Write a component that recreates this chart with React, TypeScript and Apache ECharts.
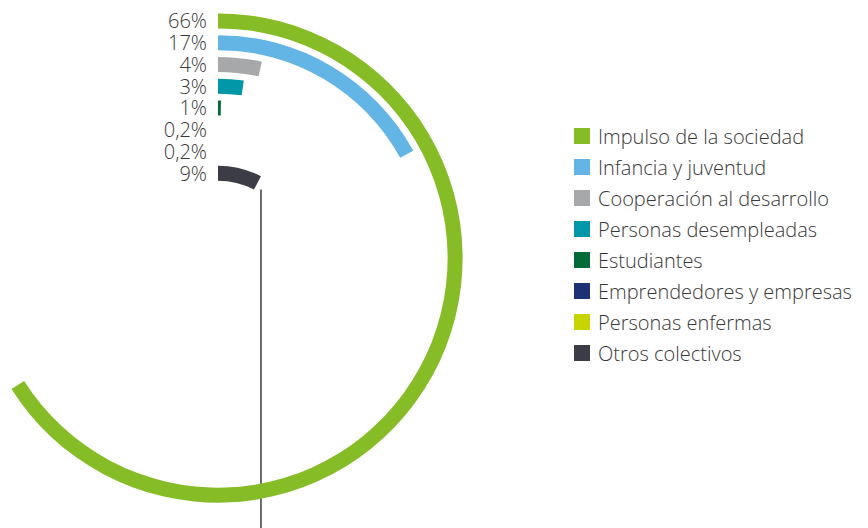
import React, { useEffect, useRef } from "react";
import * as echarts from "echarts";

const categories = [
  "Impulso de la sociedad",
  "Infancia y juventud",
  "Cooperación al desarrollo",
  "Personas desempleadas",
  "Estudiantes",
  "Emprendedores y empresas",
  "Personas enfermas",
  "Otros colectivos",
];
// arc lengths as drawn in the picture (in % of a full turn)
const drawnValues = [66, 17, 3.5, 2.3, 0.3, 0, 0, 7.7];
const percentLabels = ["66%", "17%", "4%", "3%", "1%", "0,2%", "0,2%", "9%"];
const colors = ["#86bc25", "#62b5e5", "#a7a8aa", "#0097a9", "#046a38", "#1e3174", "#c8d400", "#3b3c45"];

const CX = 218;
const CY = 258;
const R0 = 74;
const R1 = 248;
const BAR_W = 15;

export default function App() {
  const ref = useRef<HTMLDivElement>(null);
  useEffect(() => {
    if (!ref.current) return;
    const chart = echarts.init(ref.current, undefined, { renderer: "svg" });
    const band = (R1 - R0) / categories.length;
    const innerR = R0 + band / 2 - BAR_W / 2;
    const outerR = R0 + band / 2 + BAR_W / 2;
    const last = categories.length - 1;
    const ang = (drawnValues[last] / 100) * 2 * Math.PI;
    const lx = CX + outerR * Math.sin(ang);
    const ly = CY - innerR * Math.cos(ang);
    chart.setOption({
      animation: false,
      color: colors,
      textStyle: { fontFamily: "Open Sans" },
      polar: { center: [CX, CY], radius: [R0, R1] },
      angleAxis: {
        type: "value",
        min: 0,
        max: 100,
        startAngle: 90,
        clockwise: true,
        show: false,
      },
      radiusAxis: {
        type: "category",
        data: categories,
        inverse: true,
        axisLine: { show: false },
        axisTick: { show: false },
        splitLine: { show: false },
        axisLabel: {
          interval: 0,
          hideOverlap: false,
          margin: 11,
          fontSize: 20,
          lineHeight: 18,
          fontWeight: 300,
          color: "#383838",
          fontFamily: "Open Sans",
          formatter: (_v: string, i: number) => percentLabels[i],
        },
      },
      legend: {
        orient: "vertical",
        left: 569,
        top: 121,
        itemWidth: 16,
        itemHeight: 16,
        itemGap: 11,
        icon: "rect",
        data: categories,
        textStyle: {
          fontSize: 20,
          fontWeight: 300,
          lineHeight: 19,
          color: "#383838",
          fontFamily: "Open Sans",
          padding: [0, 0, 0, 3],
        },
      },
      graphic: [
        {
          type: "line",
          shape: { x1: lx, y1: ly, x2: lx, y2: 528 },
          style: { stroke: "#3b3c45", lineWidth: 1.5 },
          silent: true,
        },
      ],
      series: categories.map((name, i) => ({
        name,
        type: "bar",
        coordinateSystem: "polar",
        stack: "total",
        barWidth: BAR_W,
        data: drawnValues.map((v, j) => (j === i ? v : "-")),
        itemStyle: { color: colors[i] },
      })),
    });
    return () => chart.dispose();
  }, []);
  return (
    <div
      ref={ref}
      style={{ position: "fixed", left: 0, top: 0, width: 868, height: 528, background: "#fff" }}
    />
  );
}
